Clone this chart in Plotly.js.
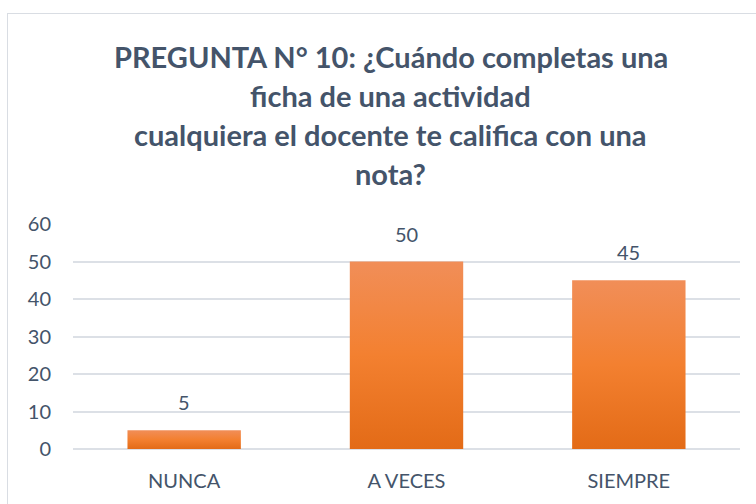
<!DOCTYPE html>
<html><head><meta charset="utf-8">
<script src="https://cdn.plot.ly/plotly-3.0.1.min.js"></script>
<style>
html,body{margin:0;padding:0;width:756px;height:504px;overflow:hidden;background:#fff;}
#chart{position:absolute;left:0;top:0;width:756px;height:504px;}
#frame{position:absolute;left:7px;top:13px;width:800px;height:600px;border:1.5px solid #D9DDE3;pointer-events:none;}
</style></head>
<body>
<div id="chart"></div>
<div id="frame"></div>
<script>
const categories = ["NUNCA", "A VECES", "SIEMPRE"];
const values = [5, 50, 45];
const titleLines = [
  "PREGUNTA N° 10: ¿Cuándo completas una",
  "ficha de una actividad",
  "cualquiera el docente te califica con una",
  "nota?"
];
const yTicks = [0, 10, 20, 30, 40, 50, 60];

const textColor = "#44546A";
const font = "Lato, 'Open Sans', sans-serif";

const lineY = [56, 95, 134, 173];
const titleAnn = titleLines.map((t, i) => ({
  text: "<b>" + t + "</b>",
  xref: "paper", yref: "paper",
  x: (390.5 - 73) / (740 - 73),
  y: (449 - lineY[i]) / (449 - 224),
  xanchor: "center", yanchor: "middle",
  showarrow: false,
  font: {family: font, size: 29, color: textColor}
}));
const labelAnn = categories.map((c, i) => ({
  text: String(values[i]),
  x: c, y: values[i], xref: "x", yref: "y",
  xanchor: "center", yanchor: "bottom", yshift: 14,
  showarrow: false,
  font: {family: font, size: 20, color: textColor}
}));

const trace = {
  type: "bar",
  x: categories,
  y: values,
  marker: {color: "#F07F2E", line: {width: 0}},
  hoverinfo: "none"
};

const layout = {
  width: 756, height: 504,
  margin: {l: 73, r: 16, t: 224, b: 55, pad: 0},
  paper_bgcolor: "#ffffff",
  plot_bgcolor: "#ffffff",
  showlegend: false,
  bargap: 0.49,
  annotations: titleAnn.concat(labelAnn),
  xaxis: {
    showgrid: false, showline: false, zeroline: false,
    ticks: "", tickfont: {family: font, size: 20, color: textColor},
    ticklabelstandoff: 18
  },
  yaxis: {
    range: [0, 60], tickvals: yTicks, ticktext: yTicks.map(String),
    showgrid: true, gridcolor: "#DCE0E6", gridwidth: 2,
    zeroline: true, zerolinecolor: "#DCE0E6", zerolinewidth: 2,
    showline: false, ticks: "",
    tickfont: {family: font, size: 20, color: textColor},
    ticklabelstandoff: 21
  }
};

Plotly.newPlot("chart", [trace], layout, {displayModeBar: false, staticPlot: true}).then(gd => {
  const svg = gd.querySelector("svg.main-svg");
  const ns = "http://www.w3.org/2000/svg";
  let defs = svg.querySelector("defs");
  if (!defs) { defs = document.createElementNS(ns, "defs"); svg.insertBefore(defs, svg.firstChild); }
  const lg = document.createElementNS(ns, "linearGradient");
  lg.setAttribute("id", "barGrad");
  lg.setAttribute("x1", "0"); lg.setAttribute("y1", "0");
  lg.setAttribute("x2", "0"); lg.setAttribute("y2", "1");
  [["0", "#F18E58"], ["0.5", "#F38030"], ["1", "#E36B17"]].forEach(([o, c]) => {
    const s = document.createElementNS(ns, "stop");
    s.setAttribute("offset", o); s.setAttribute("stop-color", c);
    lg.appendChild(s);
  });
  defs.appendChild(lg);
  gd.querySelectorAll(".bars .point path").forEach(p => { p.style.fill = "url(#barGrad)"; });
});
</script>
</body></html>
